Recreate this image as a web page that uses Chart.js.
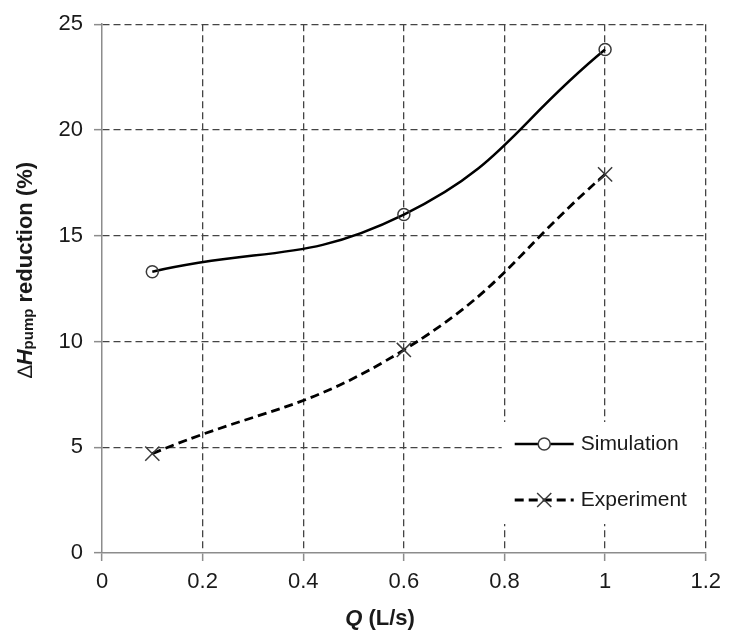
<!DOCTYPE html>
<html>
<head>
<meta charset="utf-8">
<script src="https://cdn.jsdelivr.net/npm/chart.js@4/dist/chart.umd.min.js"></script>
<style>
  html, body { margin: 0; padding: 0; background: #fff; }
  #wrap { width: 729px; height: 636px; }
</style>
</head>
<body>
<div id="wrap"><canvas id="chart" width="729" height="636"></canvas></div>
<script>
// ========== DATA ==========
const flowQ = [0.1, 0.6, 1.0];
const simulation = [13.3, 16.0, 23.8];
const experiment = [4.7, 9.6, 17.9];
const seriesNames = ['Simulation', 'Experiment'];
const xTickLabels = ['0', '0.2', '0.4', '0.6', '0.8', '1', '1.2'];
const yTickLabels = ['0', '5', '10', '15', '20', '25'];

const FONT = "'Liberation Sans', Arial, sans-serif";
const TEXT = '#1a1a1a';
const GRID = '#444';
const AXIS = '#8c8c8c';

// draw a run of text pieces with different fonts, centered at cx
function drawParts(ctx, parts, cx, y) {
    let total = 0;
    parts.forEach(p => { ctx.font = p.f; p.w = ctx.measureText(p.t).width; total += p.w; });
    let x = cx - total / 2;
    parts.forEach(p => {
        ctx.font = p.f;
        ctx.fillText(p.t, x, y + (p.dy || 0));
        x += p.w;
    });
}

// ========== AXIS TITLES ==========
const axisTitles = {
    id: 'axisTitles',
    afterDraw(chart) {
        const ctx = chart.ctx;
        ctx.save();
        ctx.fillStyle = TEXT;
        ctx.textAlign = 'left';
        ctx.textBaseline = 'alphabetic';
        drawParts(ctx, [
            { t: 'Q', f: 'italic bold 22px ' + FONT },
            { t: ' (L/s)', f: 'bold 22px ' + FONT }
        ], 380, 625);

        ctx.translate(32, 270);
        ctx.rotate(-Math.PI / 2);
        drawParts(ctx, [
            { t: '\u2206', f: '21px ' + FONT },
            { t: 'H', f: 'italic bold 22px ' + FONT },
            { t: 'pump', f: 'bold 15px ' + FONT, dy: 1 },
            { t: ' reduction (%)', f: 'bold 22px ' + FONT }
        ], 0, 0);
        ctx.restore();
    }
};

// ========== LEGEND ==========
const legendBox = {
    id: 'legendBox',
    afterDatasetsDraw(chart) {
        const ctx = chart.ctx;
        const area = chart.chartArea;
        const left = area.right - 204;
        const top = area.bottom - 131;
        ctx.save();
        ctx.fillStyle = '#fff';
        ctx.fillRect(left, top, 201, 102);
        chart.data.datasets.forEach((ds, i) => {
            const y = top + 22 + i * 56;
            const x0 = left + 13, x1 = left + 72, xm = (x0 + x1) / 2;
            ctx.strokeStyle = ds.borderColor;
            ctx.lineWidth = ds.borderWidth;
            ctx.setLineDash(ds.borderDash || []);
            ctx.beginPath();
            ctx.moveTo(x0, y);
            ctx.lineTo(x1, y);
            ctx.stroke();
            ctx.setLineDash([]);
            ctx.strokeStyle = ds.pointBorderColor;
            ctx.lineWidth = ds.pointBorderWidth;
            ctx.beginPath();
            if (ds.pointStyle === 'circle') {
                ctx.fillStyle = '#fff';
                ctx.arc(xm, y, ds.pointRadius, 0, Math.PI * 2);
                ctx.fill();
            } else {
                const o = ds.pointRadius * Math.SQRT1_2;
                ctx.moveTo(xm - o, y - o); ctx.lineTo(xm + o, y + o);
                ctx.moveTo(xm - o, y + o); ctx.lineTo(xm + o, y - o);
            }
            ctx.stroke();
            ctx.fillStyle = TEXT;
            ctx.font = '21px ' + FONT;
            ctx.textBaseline = 'middle';
            ctx.fillText(ds.label, left + 79, y);
        });
        ctx.restore();
    }
};

// ========== CHART ==========
const ctx = document.getElementById('chart').getContext('2d');
new Chart(ctx, {
    type: 'line',
    data: {
        datasets: [{
            label: seriesNames[0],
            data: flowQ.map((q, i) => ({ x: q, y: simulation[i] })),
            borderColor: '#000',
            borderWidth: 2.5,
            tension: 0.45,
            pointStyle: 'circle',
            pointRadius: 6,
            pointBorderColor: '#3a3a3a',
            pointBorderWidth: 1.5,
            pointBackgroundColor: 'rgba(0,0,0,0)'
        }, {
            label: seriesNames[1],
            data: flowQ.map((q, i) => ({ x: q, y: experiment[i] })),
            borderColor: '#000',
            borderWidth: 2.8,
            borderDash: [9, 5],
            tension: 0.45,
            pointStyle: 'crossRot',
            pointRadius: 10,
            pointBorderColor: '#3a3a3a',
            pointBorderWidth: 1.5,
            pointBackgroundColor: 'rgba(0,0,0,0)'
        }]
    },
    options: {
        responsive: false,
        animation: false,
        layout: { padding: { top: 20, right: 20, left: 0, bottom: 0 } },
        plugins: {
            legend: { display: false },
            tooltip: { enabled: false }
        },
        scales: {
            x: {
                type: 'linear',
                min: 0,
                max: 1.2,
                afterFit: s => { s.height = 83; },
                afterBuildTicks: s => { s.ticks = xTickLabels.map(t => ({ value: parseFloat(t) })); },
                ticks: {
                    callback: (v, i) => xTickLabels[i],
                    font: { family: FONT, size: 22 },
                    color: TEXT,
                    padding: 8,
                    maxRotation: 0
                },
                grid: {
                    color: c => (c.tick && c.tick.value === 0) ? 'rgba(0,0,0,0)' : GRID,
                    lineWidth: 1.3,
                    tickColor: AXIS,
                    tickLength: 8,
                    tickWidth: 1.5
                },
                border: { color: AXIS, width: 1.5, dash: [7, 4] }
            },
            y: {
                min: 0,
                max: 25,
                afterFit: s => { s.width = 102; },
                afterBuildTicks: s => { s.ticks = yTickLabels.map(t => ({ value: parseFloat(t) })); },
                ticks: {
                    callback: (v, i) => yTickLabels[i],
                    font: { family: FONT, size: 22 },
                    color: TEXT,
                    padding: 11
                },
                grid: {
                    color: c => (c.tick && c.tick.value === 0) ? 'rgba(0,0,0,0)' : GRID,
                    lineWidth: 1.3,
                    tickColor: AXIS,
                    tickLength: 8,
                    tickWidth: 1.5
                },
                border: { color: AXIS, width: 1.5, dash: [7, 4] }
            }
        }
    },
    plugins: [legendBox, axisTitles]
});
</script>
</body>
</html>
